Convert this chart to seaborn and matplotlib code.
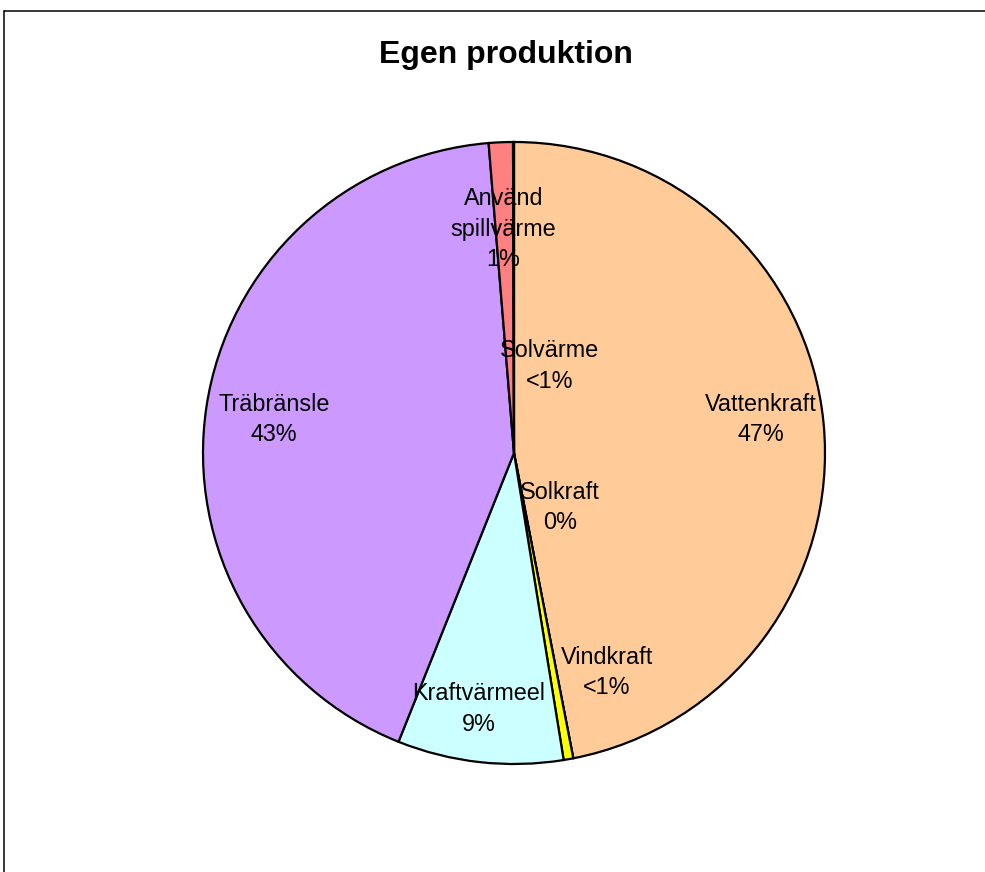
import matplotlib
matplotlib.use("Agg")
import matplotlib.pyplot as plt
from matplotlib.lines import Line2D
import seaborn as sns

# data (clockwise from 12 o'clock)
Sources = ['Vattenkraft', 'Solkraft', 'Vindkraft', 'Kraftvärmeel', 'Träbränsle', 'Använd\nspillvärme', 'Solvärme']
Shares  = [46.9, 0.0, 0.5, 8.6, 42.6, 1.25, 0.05]
PctText = ['47%', '0%', '<1%', '9%', '43%', '1%', '<1%']
Colors  = ['#FFCC99', '#FFFFFF', '#FFFF00', '#CCFFFF', '#CC99FF', '#FF8080', '#FF99CC']

# label placement inside the pie (radius units), hand-moved like the original
LabelPos = [(0.794, 0.109), (0.148, -0.174), (0.299, -0.707), (-0.113, -0.823),
            (-0.772, 0.109), (-0.034, 0.720), (0.114, 0.280)]

sns.set_theme(style="white")
plt.rcParams['font.family'] = ['Liberation Sans', 'DejaVu Sans']
plt.rcParams['text.color'] = 'black'

fig = plt.figure(figsize=(9.85, 8.72), dpi=100)
# pie centre at (514, 453) px, radius 311 px
ax = fig.add_axes([(514 - 311) / 985, (872 - 764) / 872, 622 / 985, 622 / 872])

ax.pie(Shares, colors=Colors, startangle=90, counterclock=False, radius=1.0,
       wedgeprops={"edgecolor": "black", "linewidth": 1.6})
ax.set_xlim(-1, 1)
ax.set_ylim(-1, 1)
ax.set_aspect('auto')
ax.axis('off')

for name, pct, (x, y) in zip(Sources, PctText, LabelPos):
    ax.text(x, y, name + '\n' + pct, ha='center', va='center', fontsize=16.8,
            linespacing=1.4, color='black')

fig.text(506 / 985, 1 - 55 / 872, 'Egen produktion', ha='center', va='center',
         fontsize=23, fontweight='bold', color='black')

# chart area border (left and top edges visible)
fig.add_artist(Line2D([4 / 985, 4 / 985], [0, 1 - 11 / 872], color='black', linewidth=1.1))
fig.add_artist(Line2D([4 / 985, 1], [1 - 11 / 872, 1 - 11 / 872], color='black', linewidth=1.1))

plt.savefig('out.png', dpi=100)
plt.close()
